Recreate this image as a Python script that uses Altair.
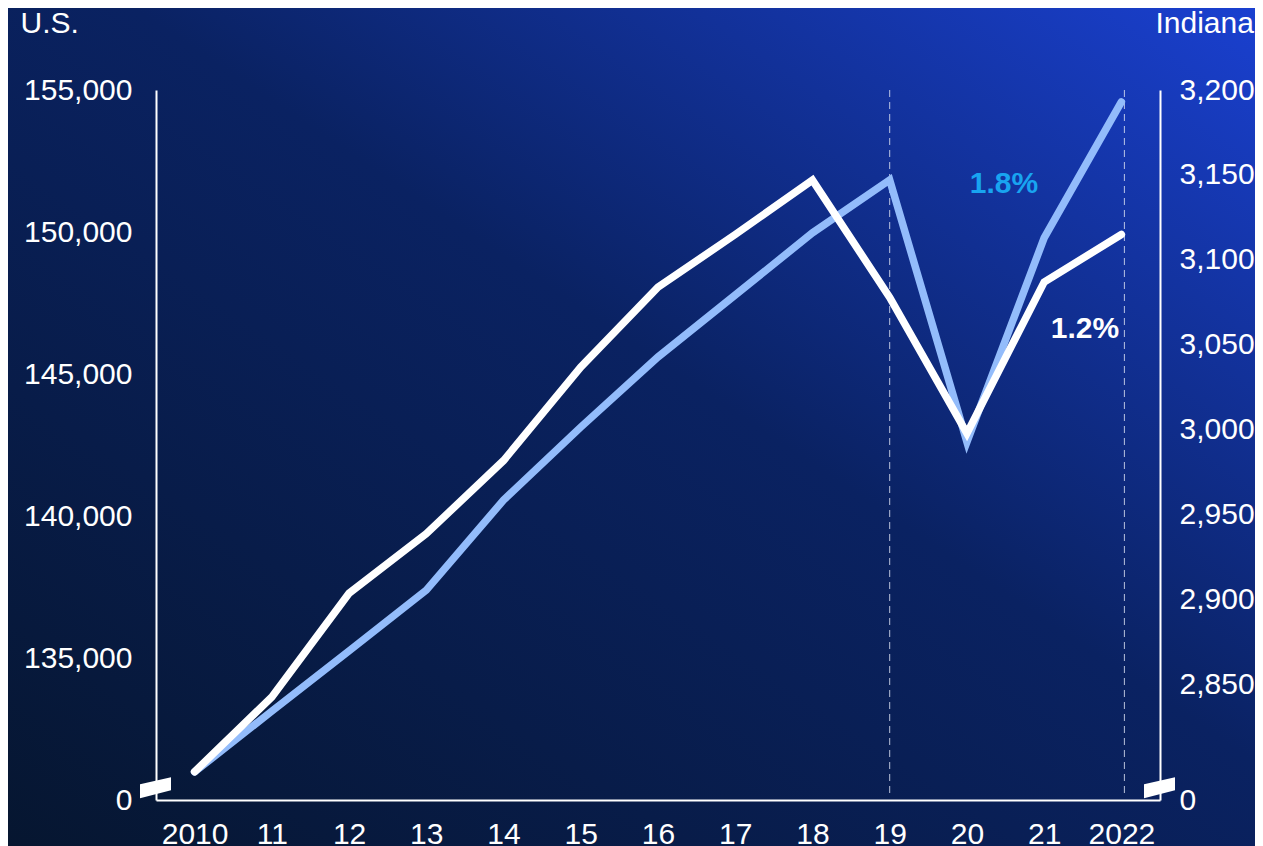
import altair as alt
import pandas as pd

# ---- data ----
years = ["2010", "11", "12", "13", "14", "15", "16", "17", "18", "19", "20", "21", "2022"]
us = [130990, 133130, 135250, 137390, 140560, 143130, 145600, 147780, 149970, 151830, 142610, 149790, 154580]
indiana = [2799, 2843, 2904, 2939, 2982, 3037, 3084, 3115, 3147, 3078, 2998, 3087, 3115]
us_ticks = [130000, 135000, 140000, 145000, 150000, 155000]
in_ticks = [2782.35, 2850, 2900, 2950, 3000, 3050, 3100, 3150, 3200]

FONT = "Liberation Sans"
W, H = 1004, 710
PADL, PADT, PADR, PADB = 148, 82, 95, 46

df = pd.DataFrame({"year": years, "us": us, "indiana": indiana})
one = pd.DataFrame({"a": [0]})

xenc = alt.X(
    "year:O", sort=years,
    scale=alt.Scale(type="point", padding=0.5),
    axis=alt.Axis(title=None, labelAngle=0, ticks=False, domainColor="white",
                  domainWidth=2, labelColor="white", labelFont=FONT,
                  labelFontSize=30, labelPadding=19, grid=False, zindex=1),
)

bg = alt.Chart(one).mark_rect(
    color=alt.LinearGradient(
        gradient="linear", x1=0, y1=1, x2=1, y2=0,
        stops=[alt.GradientStop(color="#061630", offset=0),
               alt.GradientStop(color="#0a2262", offset=0.55),
               alt.GradientStop(color="#1a40d0", offset=1)],
    )
).encode(x=alt.value(-PADL), x2=alt.value(W + PADR), y=alt.value(-PADT), y2=alt.value(H + PADB))

rule19 = alt.Chart(pd.DataFrame({"year": ["19"]})).mark_rule(
    color="#d8def0", strokeWidth=1, strokeDash=[7, 5], opacity=0.85
).encode(x=xenc, y=alt.value(0), y2=alt.value(H - 6))
rule22 = alt.Chart(pd.DataFrame({"year": ["2022"]})).mark_rule(
    color="#d8def0", strokeWidth=1, strokeDash=[7, 5], opacity=0.85, xOffset=3
).encode(x=xenc, y=alt.value(0), y2=alt.value(H - 6))

line_us = alt.Chart(df).mark_line(color="#93bcfb", strokeWidth=7.5, strokeCap="round").encode(
    x=xenc,
    y=alt.Y("us:Q",
            scale=alt.Scale(domain=[130000, 155000], nice=False, zero=False),
            axis=alt.Axis(orient="left", values=us_ticks, zindex=1,
                          labelExpr="datum.value <= 130000 ? '0' : format(datum.value, ',')",
                          ticks=False, grid=False, domainColor="white", domainWidth=2,
                          labelColor="white", labelFont=FONT, labelFontSize=30, labelPadding=24,
                          title="U.S.", titleAngle=0, titleX=-136, titleY=-67,
                          titleAlign="left", titleBaseline="middle", titleFont=FONT,
                          titleFontSize=30, titleFontWeight="normal", titleColor="white")),
)

line_in = alt.Chart(df).mark_line(color="white", strokeWidth=7.5, strokeCap="round").encode(
    x=xenc,
    y=alt.Y("indiana:Q",
            scale=alt.Scale(domain=[2782.35, 3200], nice=False, zero=False),
            axis=alt.Axis(orient="right", values=in_ticks, zindex=1,
                          labelExpr="datum.value < 2800 ? '0' : format(datum.value, ',')",
                          ticks=False, grid=False, domainColor="white", domainWidth=2,
                          labelColor="white", labelFont=FONT, labelFontSize=30, labelPadding=19,
                          title="Indiana", titleAngle=0, titleX=-5, titleY=-67,
                          titleAlign="left", titleBaseline="middle", titleFont=FONT,
                          titleFontSize=30, titleFontWeight="normal", titleColor="white")),
)

lab_us = alt.Chart(one).mark_text(
    text="1.8%", font=FONT, fontSize=30, fontWeight="bold", color="#18a4f0",
    align="center", baseline="middle"
).encode(x=alt.value(848), y=alt.value(94))

lab_in = alt.Chart(one).mark_text(
    text="1.2%", font=FONT, fontSize=30, fontWeight="bold", color="white",
    align="center", baseline="middle"
).encode(x=alt.value(929), y=alt.value(239))

BREAK = "M -1 -0.21 L 1 -0.66 L 1 0.18 L -1 0.69 Z"
brk_l = alt.Chart(one).mark_point(shape=BREAK, filled=True, size=961, color="white", opacity=1).encode(
    x=alt.value(-0.5), y=alt.value(697.5))
brk_r = alt.Chart(one).mark_point(shape=BREAK, filled=True, size=961, color="white", opacity=1).encode(
    x=alt.value(1003.5), y=alt.value(697.5))

chart = alt.layer(bg, rule19, rule22, line_us, line_in, lab_us, lab_in, brk_l, brk_r).resolve_scale(
    y="independent"
).properties(
    width=W, height=H,
    padding={"left": PADL, "top": PADT, "right": PADR, "bottom": PADB},
    autosize=alt.AutoSizeParams(type="none"),
    background="#0a1d4a",
).configure_view(stroke=None)

chart.save("out.html", embed_options={"renderer": "svg", "actions": False})
